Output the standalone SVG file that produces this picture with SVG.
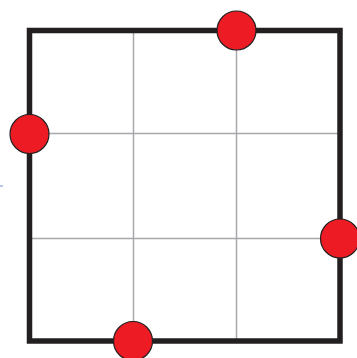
<svg xmlns="http://www.w3.org/2000/svg" width="357" height="358" viewBox="0 0 357 358">
<style>
.grid{stroke:#a7a9ac;stroke-width:1.5;fill:none}
.frame{stroke:#231f20;stroke-width:5.5;fill:none}
.dot{fill:#ed1c24;stroke:#231f20;stroke-width:1.2}
</style>
<rect width="357" height="358" fill="#ffffff"/>
<g id="connectors">
<line class="grid" x1="133.5" y1="31" x2="133.5" y2="340"/>
<line class="grid" x1="236.5" y1="31" x2="236.5" y2="340"/>
<line class="grid" x1="30" y1="133.5" x2="340" y2="133.5"/>
<line class="grid" x1="30" y1="238.5" x2="340" y2="238.5"/>
<rect class="frame" x="29.5" y="30.5" width="310.5" height="310.5"/>
<line x1="0" y1="186" x2="3" y2="186" stroke="#6a8fd0" stroke-width="1"/>
</g>
<g id="node-top"><circle class="dot" cx="236.5" cy="30.5" r="19.5"/></g>
<g id="node-left"><circle class="dot" cx="29.5" cy="134" r="19.5"/></g>
<g id="node-right"><circle class="dot" cx="340" cy="238.5" r="19.5"/></g>
<g id="node-bottom"><circle class="dot" cx="133" cy="341" r="19.5"/></g>
</svg>
